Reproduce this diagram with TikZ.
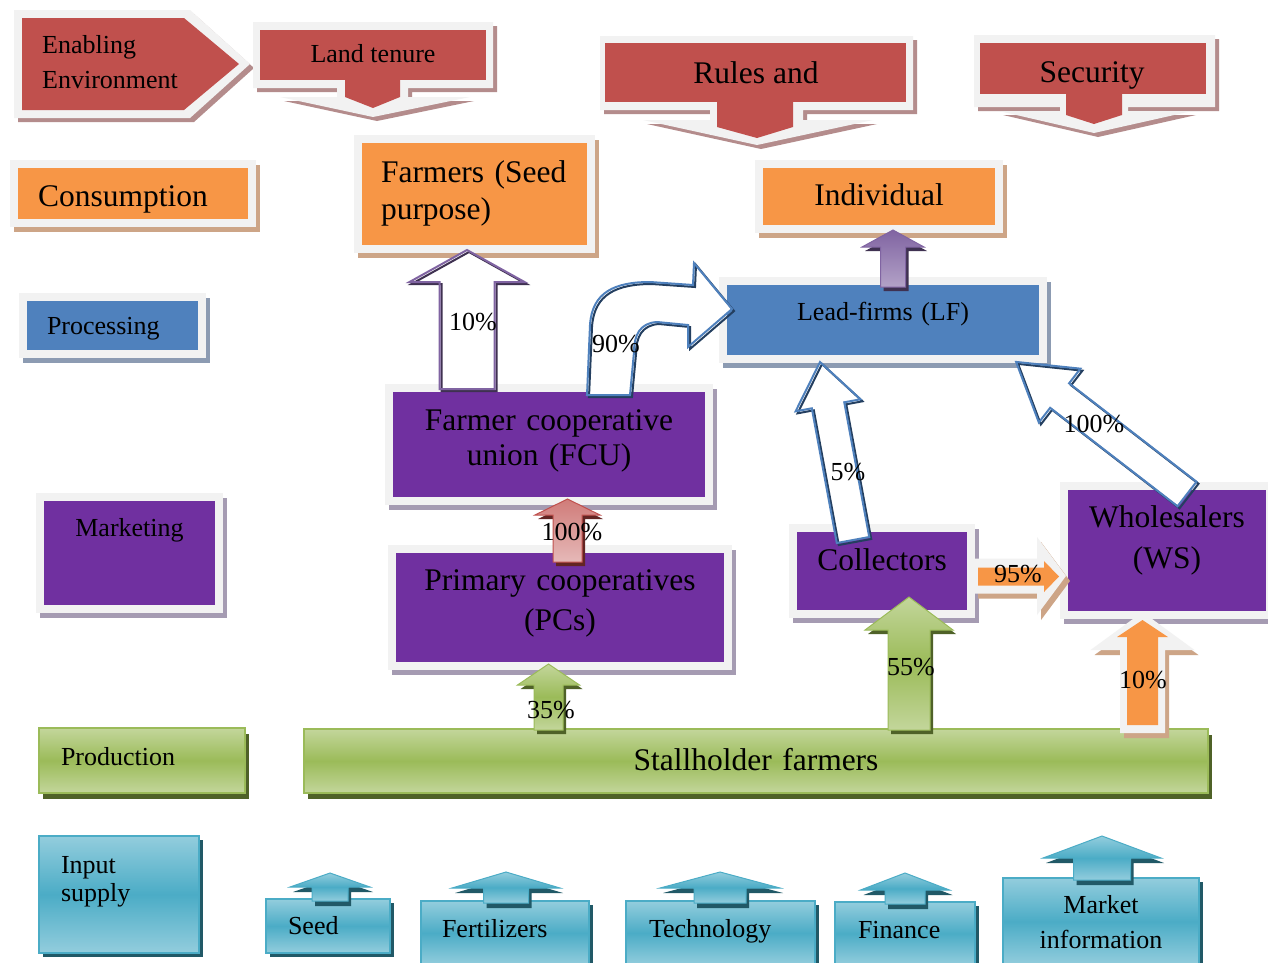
\documentclass[tikz,border=0pt]{standalone}
\usepackage{fontspec}
\setmainfont{Liberation Serif}

\newcommand{\fbig}{\fontsize{31.5}{38}\selectfont}
\newcommand{\fsmall}{\fontsize{26}{30}\selectfont}

\definecolor{panelgray}{HTML}{F2F2F2}
\definecolor{redbox}{HTML}{C0504D}
\definecolor{redsh}{HTML}{B48C8C}
\definecolor{redL}{HTML}{E6B9B8}
\definecolor{redD}{HTML}{632523}
\definecolor{orangebox}{HTML}{F79646}
\definecolor{orangesh}{HTML}{CDA587}
\definecolor{bluebox}{HTML}{4F81BD}
\definecolor{bluesh}{HTML}{8C9BB2}
\definecolor{blueD}{HTML}{243F60}
\definecolor{purplebox}{HTML}{7030A0}
\definecolor{purplesh}{HTML}{A59BB2}
\definecolor{lavL}{HTML}{B3A2C7}
\definecolor{lavM}{HTML}{8064A2}
\definecolor{lavD}{HTML}{3F3151}
\definecolor{greenM}{HTML}{9BBB59}
\definecolor{greenL}{HTML}{C3D69B}
\definecolor{greenD}{HTML}{4F6228}
\definecolor{tealM}{HTML}{4BACC6}
\definecolor{tealL}{HTML}{93CDDD}
\definecolor{tealD}{HTML}{215967}

% up block arrow: x, base y, tip y, stem half, head half, head length, style
\newcommand{\uparr}[7]{%
  \path[#7] ({#1-#4},#2) -- ({#1-#4},{#3+#6}) -- ({#1-#5},{#3+#6}) -- (#1,#3)
    -- ({#1+#5},{#3+#6}) -- ({#1+#4},{#3+#6}) -- ({#1+#4},#2) -- cycle;}
% block arrow at any angle: base, angle, length, stem half, head half, head length, style
\newcommand{\blockarrow}[7]{%
  \path[#7, shift={#1}, rotate=#2] (0,#4) -- ({#3-#6},#4) -- ({#3-#6},#5) -- (#3,0)
    -- ({#3-#6},-#5) -- ({#3-#6},-#4) -- (0,-#4) -- cycle;}

\tikzset{
  panel/.style 2 args={draw=panelgray, line width=8pt, fill=#1, outer sep=0pt,
    inner ysep=0pt, anchor=north west,
    preaction={fill=#2, draw=#2, line width=8pt, transform canvas={shift={(4pt,-5pt)}}}},
  greenbox/.style={draw=greenM, line width=2pt, top color=greenL, bottom color=greenL,
    middle color=greenM, outer sep=0pt, inner ysep=0pt, anchor=north west,
    preaction={fill=greenD, transform canvas={shift={(4pt,-6pt)}}}},
  tealbox/.style={draw=tealM, line width=2pt, top color=tealL, bottom color=tealL,
    middle color=tealM, outer sep=0pt, inner ysep=0pt, anchor=north west,
    preaction={fill=tealD, transform canvas={shift={(4pt,-4pt)}}}},
  callout/.style={fill=panelgray, preaction={fill=redsh, transform canvas={shift={(4pt,-4pt)}}}},
  greenarr/.style={draw=greenM, line width=1pt, top color=greenL, bottom color=greenL,
    middle color=greenM, preaction={fill=greenD, transform canvas={shift={(3pt,-4pt)}}}},
  tealarr/.style={draw=tealM, line width=1pt, top color=tealL, bottom color=tealL,
    middle color=tealM, preaction={fill=tealD, transform canvas={shift={(3pt,-5pt)}}}},
  redarr/.style={draw=redbox, line width=1pt, top color=redbox!75!white, bottom color=redL,
    preaction={fill=redD, transform canvas={shift={(3pt,-4pt)}}}},
  lavarr/.style={draw=lavM, line width=1pt, top color=lavM, bottom color=lavL,
    preaction={fill=lavD, transform canvas={shift={(3pt,-4pt)}}}},
  framearr/.style={fill=panelgray, preaction={fill=orangesh, transform canvas={shift={(4pt,-5pt)}}}},
  orangearr/.style={fill=orangebox},
  hollow/.style 2 args={draw=#1, line width=2pt, line join=miter, preaction={fill=white},
    preaction={draw=#2, line width=2pt, transform canvas={shift={(2pt,-2pt)}}}},
  pct/.style={anchor=base, font=\fsmall, inner sep=0pt},
}

\begin{document}
\begin{tikzpicture}[x=1pt, y=-1pt]
\useasboundingbox (0,0) rectangle (1268,962);
\fill[white] (0,0) rectangle (1268,962);

% enabling environment row
\path[callout] (14,10) -- (190,10) -- (250,64) -- (190,118) -- (14,118) -- cycle;
\fill[redbox] (22,18) -- (184,18) -- (239,64) -- (184,110) -- (22,110) -- cycle;
\node[anchor=base west, align=left, inner sep=0pt, font={\fontsize{26}{35}\selectfont}]
  (enabling) at (42,88) {Enabling\\Environment};

\path[callout] (253,22) -- (493,22) -- (493,88) -- (408,88) -- (408,97) -- (470,97)
  -- (373,117) -- (280,97) -- (337,97) -- (337,88) -- (253,88) -- cycle;
\fill[redbox] (260,30) rectangle (486,80);
\fill[redbox] (345,79) -- (400,79) -- (400,97) -- (373,108) -- (345,97) -- cycle;
\node[anchor=base, font=\fsmall, inner sep=0pt] (land) at (373,62) {Land tenure};

\path[callout] (600,36) -- (913,36) -- (913,110) -- (803,110) -- (803,120) -- (873,120)
  -- (757,145) -- (643,120) -- (710,120) -- (710,110) -- (600,110) -- cycle;
\fill[redbox] (605,43) rectangle (906,102);
\fill[redbox] (717,101) -- (793,101) -- (793,127) -- (757,138) -- (717,127) -- cycle;
\node[anchor=base, font=\fbig, inner sep=0pt] (rules) at (756,83) {Rules and};

\path[callout] (974,35) -- (1215,35) -- (1215,107) -- (1128,107) -- (1128,111) -- (1192,111)
  -- (1094,133) -- (999,111) -- (1060,111) -- (1060,107) -- (974,107) -- cycle;
\fill[redbox] (980,43) rectangle (1206,94);
\fill[redbox] (1066,93) -- (1122,93) -- (1122,115) -- (1094,124) -- (1066,115) -- cycle;
\node[anchor=base, font=\fbig, inner sep=0pt] (security) at (1092,82) {Security};

% consumption row
\node[panel={orangebox}{orangesh}, text width=190pt, inner xsep=24pt, align=left,
  text height=42pt, text depth=17pt, font=\fbig] (consumption) at (14,164) {Consumption};
\node[panel={orangebox}{orangesh}, text width=187pt, inner xsep=23pt, align=left,
  text height=43pt, text depth=67pt, font={\fontsize{31.5}{37}\selectfont}]
  (farmers) at (358,139) {\mbox{Farmers (Seed}\\purpose)};
\node[panel={orangebox}{orangesh}, text width=240pt, inner xsep=0pt, align=center,
  text height=41pt, text depth=24pt, font=\fbig] (individual) at (759,164) {Individual};

% processing row
\node[panel={bluebox}{bluesh}, text width=131pt, inner xsep=24pt, align=left,
  text height=37pt, text depth=20pt, font=\fsmall] (processing) at (23,297) {Processing};
\node[panel={bluebox}{bluesh}, text width=320pt, inner xsep=0pt, align=center,
  text height=39pt, text depth=39pt, font=\fsmall] (lf) at (723,281) {Lead-firms (LF)};

% marketing rows
\node[panel={purplebox}{purplesh}, text width=320pt, inner xsep=0pt, align=center,
  text height=42pt, text depth=71pt, font={\fontsize{31.5}{35}\selectfont}]
  (fcu) at (389,388) {Farmer cooperative\\union (FCU)};
\node[panel={purplebox}{purplesh}, text width=179pt, inner xsep=0pt, align=center,
  text height=39pt, text depth=73pt, font=\fsmall] (marketing) at (40,497) {Marketing};
\node[panel={purplebox}{purplesh}, text width=336pt, inner xsep=0pt, align=center,
  text height=41pt, text depth=76pt, font={\fontsize{31.5}{40}\selectfont}]
  (pcs) at (392,549) {Primary cooperatives\\(PCs)};
\node[panel={purplebox}{purplesh}, text width=178pt, inner xsep=0pt, align=center,
  text height=42pt, text depth=44pt, font=\fbig] (collectors) at (793,528) {Collectors};
\node[panel={purplebox}{purplesh}, text width=206pt, inner xsep=0pt, align=center,
  text height=41pt, text depth=88pt, font={\fontsize{31.5}{41}\selectfont}]
  (ws) at (1064,486) {Wholesalers\\(WS)};

% production row
\node[greenbox, text width=162pt, inner xsep=22pt, align=left,
  text height=37pt, text depth=28pt, font=\fsmall] (production) at (39,728) {Production};
\node[greenbox, text width=904pt, inner xsep=0pt, align=center,
  text height=41pt, text depth=23pt, font=\fbig] (stall) at (304,729) {Stallholder farmers};

% input supply row
\node[tealbox, text width=116pt, inner xsep=22pt, align=left,
  text height=37pt, text depth=80pt, font={\fontsize{26}{28}\selectfont}]
  (input) at (39,836) {Input\\supply};
\node[tealbox, text width=80pt, inner xsep=22pt, align=left,
  text height=35pt, text depth=19pt, font=\fsmall] (seed) at (266,899) {Seed};
\node[tealbox, text width=126pt, inner xsep=21pt, align=left,
  text height=36pt, text depth=28pt, font=\fsmall] (fert) at (421,901) {Fertilizers};
\node[tealbox, text width=143pt, inner xsep=23pt, align=left,
  text height=36pt, text depth=28pt, font=\fsmall] (tech) at (626,901) {Technology};
\node[tealbox, text width=94pt, inner xsep=23pt, align=left,
  text height=36pt, text depth=27pt, font=\fsmall] (fin) at (835,902) {Finance};
\node[tealbox, text width=196pt, inner xsep=0pt, align=center,
  text height=35pt, text depth=52pt, font={\fontsize{26}{35}\selectfont}]
  (market) at (1003,878) {Market\\information};

% input arrows
\uparr{330}{901}{873}{18}{40}{14}{tealarr}
\uparr{506}{903}{872}{22.5}{54}{16}{tealarr}
\uparr{720}{903}{872}{26}{60}{16}{tealarr}
\uparr{905}{904}{873}{20}{44.5}{17}{tealarr}
\uparr{1102}{880}{836}{28.5}{59}{22}{tealarr}

% flows
\uparr{548.5}{730}{664}{14.5}{31}{21}{greenarr}
\uparr{909}{730}{597}{21}{44}{33}{greenarr}
\uparr{1142.5}{733}{612}{22.5}{52}{38}{framearr}
\uparr{1142.5}{725}{620}{15.5}{25.5}{17}{orangearr}
\blockarrow{(974,576)}{0}{92}{17.5}{39}{29}{framearr}
\blockarrow{(978,576.5)}{0}{81}{9}{15.5}{15}{orangearr}
\uparr{567.5}{562}{499}{14.5}{32.5}{16}{redarr}
\uparr{893}{287}{230}{12.5}{31}{17}{lavarr}
\blockarrow{(467,389)}{90}{139}{27.5}{57.5}{32}{hollow={lavM}{lavD}}
\blockarrow{(853,540)}{100.5}{181}{16.5}{33}{44}{hollow={bluebox}{blueD}}
\blockarrow{(1187,494)}{142.3}{216}{15.5}{34}{55}{hollow={bluebox}{blueD}}
\path[hollow={bluebox}{blueD}] (587,395) -- (590,325) .. controls (592,292) and (615,282) .. (650,282)
  -- (693,285) -- (694,263) -- (732,309) -- (688,347) -- (688,325) -- (657,322)
  .. controls (640,323) and (634,335) .. (634,352) -- (630,395) -- cycle;

% shares
\node[pct] (p10a) at (473,330) {10\%};
\node[pct] (p90) at (616,352) {90\%};
\node[pct] (p100a) at (572,540) {100\%};
\node[pct] (p35) at (551,718) {35\%};
\node[pct] (p55) at (911,675) {55\%};
\node[pct] (p10b) at (1143,688) {10\%};
\node[pct] (p95) at (1018,582) {95\%};
\node[pct] (p5) at (848,480) {5\%};
\node[pct] (p100b) at (1094,432) {100\%};
\end{tikzpicture}
\end{document}
